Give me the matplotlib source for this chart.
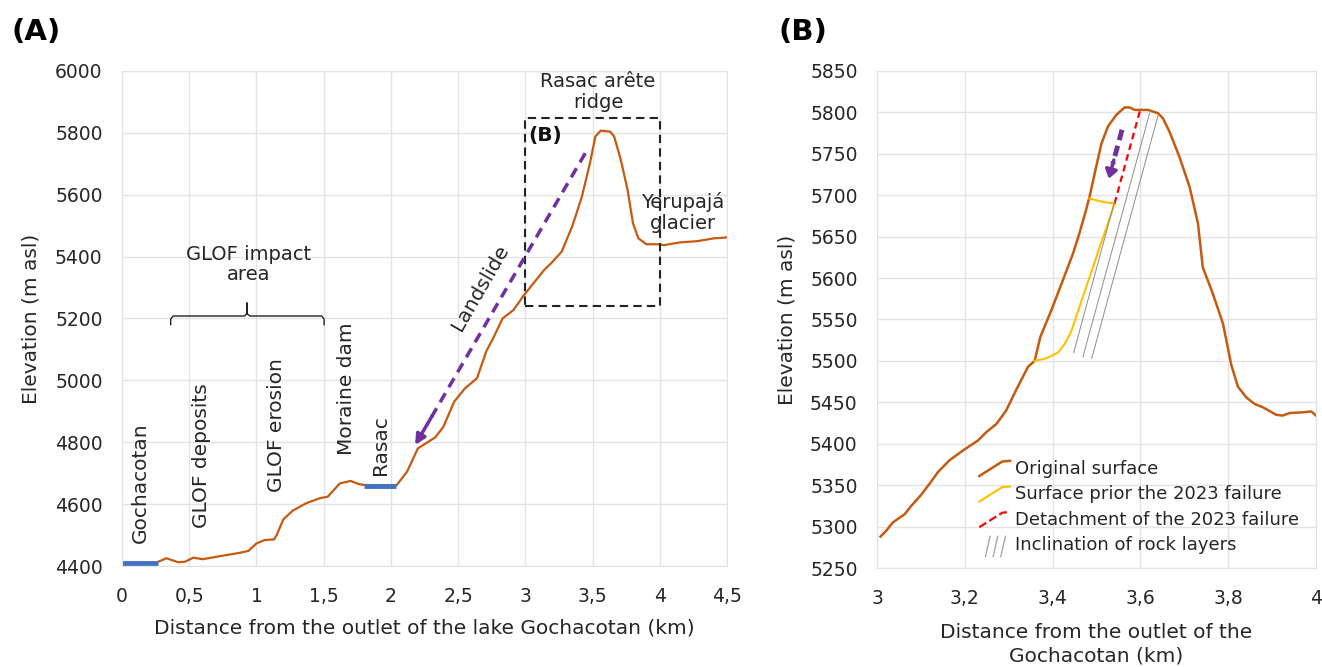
import matplotlib
matplotlib.use("Agg")
import matplotlib.pyplot as plt
from matplotlib.lines import Line2D
from matplotlib.legend_handler import HandlerBase

# ---- data ----
# panel A: long profile
prof_a_x = [0.27, 0.33, 0.42, 0.47, 0.53, 0.60, 0.73, 0.88, 0.94, 1.00, 1.06, 1.13, 1.15, 1.20,
            1.27, 1.37, 1.47, 1.53, 1.62, 1.70, 1.76, 1.80, 2.04, 2.12, 2.20, 2.33, 2.39, 2.47,
            2.55, 2.64, 2.71, 2.76, 2.83, 2.91, 2.99, 3.06, 3.14, 3.19, 3.27, 3.35, 3.42, 3.48,
            3.52, 3.56, 3.63, 3.66, 3.71, 3.76, 3.80, 3.84, 3.90, 3.98, 4.03, 4.15, 4.28, 4.40, 4.50]
prof_a_y = [4414, 4425, 4412, 4414, 4427, 4422, 4432, 4443, 4449, 4473, 4484, 4486, 4500, 4551,
            4579, 4603, 4619, 4624, 4667, 4675, 4665, 4662, 4660, 4705, 4780, 4816, 4850, 4931,
            4974, 5007, 5095, 5136, 5200, 5227, 5276, 5314, 5357, 5378, 5416, 5500, 5594, 5702,
            5788, 5807, 5804, 5788, 5712, 5615, 5508, 5459, 5440, 5440, 5437, 5446, 5450, 5459, 5462]
lake_goch_x = [0.0, 0.27]
lake_goch_y = [4410, 4410]
lake_rasac_x = [1.80, 2.04]
lake_rasac_y = [4660, 4660]
slide_x = [3.445, 2.18]
slide_y = [5734, 4791]
box_x = [3.0, 4.0, 4.0, 3.0, 3.0]
box_y = [5240, 5240, 5848, 5848, 5240]
brace_x = [0.362, 0.362, 0.38, 0.91, 0.93, 0.93, 0.93, 0.95, 1.485, 1.503, 1.503]
brace_y = [5180, 5198, 5208, 5208, 5216, 5250, 5216, 5208, 5208, 5198, 5180]
site_labels = ["Gochacotan", "GLOF deposits", "GLOF erosion", "Moraine dam", "Rasac"]
site_x = [0.134, 0.593, 1.151, 1.672, 1.92]
site_y = [4473, 4522, 4640, 4759, 4694]
xticks_a = [0, 0.5, 1, 1.5, 2, 2.5, 3, 3.5, 4, 4.5]
xtick_labels_a = ["0", "0,5", "1", "1,5", "2", "2,5", "3", "3,5", "4", "4,5"]
yticks_a = [4400, 4600, 4800, 5000, 5200, 5400, 5600, 5800, 6000]

# panel B: close-up of the ridge
prof_b_x = [3.008, 3.021, 3.036, 3.063, 3.078, 3.100, 3.120, 3.139, 3.165, 3.196, 3.230, 3.249,
            3.272, 3.294, 3.317, 3.344, 3.359, 3.372, 3.400, 3.423, 3.446, 3.461, 3.476, 3.484,
            3.499, 3.511, 3.526, 3.545, 3.564, 3.575, 3.587, 3.617, 3.640, 3.651, 3.666, 3.689,
            3.712, 3.731, 3.742, 3.765, 3.788, 3.807, 3.822, 3.841, 3.860, 3.879, 3.909, 3.924,
            3.939, 3.970, 3.989, 4.000]
prof_b_y = [5288, 5295, 5305, 5315, 5325, 5338, 5352, 5366, 5380, 5392, 5404, 5414,
            5424, 5440, 5465, 5493, 5500, 5529, 5565, 5597, 5629, 5654, 5682, 5698,
            5734, 5762, 5783, 5797, 5806, 5806, 5803, 5803, 5799, 5793, 5777, 5746,
            5710, 5666, 5613, 5581, 5545, 5495, 5469, 5456, 5448, 5444, 5435, 5434,
            5437, 5438, 5439, 5434]
prior_x = [3.359, 3.385, 3.412, 3.427, 3.442, 3.461, 3.484, 3.507, 3.526, 3.541, 3.514, 3.484]
prior_y = [5500, 5503, 5510, 5520, 5535, 5565, 5601, 5637, 5666, 5690, 5692, 5696]
detach_x = [3.541, 3.600]
detach_y = [5690, 5804]
layers_x = [[3.448, 3.541], [3.469, 3.621], [3.489, 3.640]]
layers_y = [[5510, 5692], [5505, 5799], [5503, 5796]]
arrow_b_x = [3.558, 3.528]
arrow_b_y = [5779, 5720]
xticks_b = [3, 3.2, 3.4, 3.6, 3.8, 4]
xtick_labels_b = ["3", "3,2", "3,4", "3,6", "3,8", "4"]
yticks_b = list(range(5250, 5851, 50))

ORANGE = "#C55A11"
BLUE = "#4472C4"
PURPLE = "#7030A0"
YELLOW = "#FFC000"
RED = "#FF0000"
TXT = "#262626"
GRID = "#E3E3E3"

plt.rcParams["font.family"] = ["DejaVu Sans"]


def style_axes(ax):
    ax.grid(True, color=GRID, lw=1)
    ax.set_axisbelow(True)
    for s in ax.spines.values():
        s.set_color(GRID)
    ax.tick_params(length=0, labelsize=13.5, labelcolor=TXT)
    ax.tick_params(axis="y", pad=14)
    ax.tick_params(axis="x", pad=15)


fig = plt.figure(figsize=(13.22, 6.67), dpi=100)
ax1 = fig.add_axes([0.0923, 0.1514, 0.4577, 0.7422])
ax2 = fig.add_axes([0.6634, 0.1484, 0.3321, 0.7452])

# ---------------- panel A ----------------
style_axes(ax1)
ax1.plot(prof_a_x, prof_a_y, color=ORANGE, lw=1.6)
ax1.plot(lake_goch_x, lake_goch_y, color=BLUE, lw=3.5, solid_capstyle="butt")
ax1.plot(lake_rasac_x, lake_rasac_y, color=BLUE, lw=3.5, solid_capstyle="butt")
ax1.plot(box_x, box_y, color="#222222", lw=1.5, ls=(0, (4, 2.5)))
ax1.plot(brace_x, brace_y, color="#222222", lw=1)

# landslide arrow: dashed shaft + solid head
ax1.plot([slide_x[0], slide_x[0] + 0.93 * (slide_x[1] - slide_x[0])],
         [slide_y[0], slide_y[0] + 0.93 * (slide_y[1] - slide_y[0])],
         color=PURPLE, lw=2.5, ls=(0, (3, 2)))
ax1.annotate("", xy=(slide_x[1], slide_y[1]),
             xytext=(slide_x[0] + 0.9 * (slide_x[1] - slide_x[0]),
                     slide_y[0] + 0.9 * (slide_y[1] - slide_y[0])),
             arrowprops=dict(arrowstyle="-|>,head_length=0.6,head_width=0.3",
                             color=PURPLE, lw=2.5, shrinkA=0, shrinkB=0))
ax1.text(2.664, 5298, "Landslide", rotation=60, ha="center", va="center",
         fontsize=14.5, color=TXT, rotation_mode="anchor")

for lab, x, y in zip(site_labels, site_x, site_y):
    ax1.text(x, y, lab, rotation=90, ha="center", va="bottom", fontsize=14.5, color=TXT)

ax1.text(0.94, 5375, "GLOF impact\narea", ha="center", va="center", fontsize=14,
         color=TXT, linespacing=1.1)
ax1.text(3.54, 5932, "Rasac arête\nridge", ha="center", va="center", fontsize=14,
         color=TXT, linespacing=1.1)
ax1.text(4.17, 5543, "Yerupajá\nglacier", ha="center", va="center", fontsize=14,
         color=TXT, linespacing=1.1)
ax1.text(3.02, 5793, "(B)", ha="left", va="center", fontsize=14.5, fontweight="bold",
         color="#111111")

ax1.set_xlim(0, 4.5)
ax1.set_ylim(4400, 6000)
ax1.set_xticks(xticks_a)
ax1.set_xticklabels(xtick_labels_a)
ax1.set_yticks(yticks_a)
ax1.set_xlabel("Distance from the outlet of the lake Gochacotan (km)", fontsize=14.5,
               color=TXT, labelpad=9)
ax1.set_ylabel("Elevation (m asl)", fontsize=14.5, color=TXT, labelpad=10)

# ---------------- panel B ----------------
style_axes(ax2)
ax2.plot(prof_b_x, prof_b_y, color=ORANGE, lw=1.8, label="Original surface")
ax2.plot(prior_x, prior_y, color=YELLOW, lw=1.5, label="Surface prior the 2023 failure")
ax2.plot(detach_x, detach_y, color=RED, lw=1.6, ls=(0, (3, 2)),
         label="Detachment of the 2023 failure")
for i, (lx, ly) in enumerate(zip(layers_x, layers_y)):
    ax2.plot(lx, ly, color="#8C8C8C", lw=0.7,
             label="Inclination of rock layers" if i == 0 else None)

ax2.plot([arrow_b_x[0], arrow_b_x[0] + 0.7 * (arrow_b_x[1] - arrow_b_x[0])],
         [arrow_b_y[0], arrow_b_y[0] + 0.7 * (arrow_b_y[1] - arrow_b_y[0])],
         color=PURPLE, lw=3.5, ls=(0, (2.2, 1.2)))
ax2.annotate("", xy=(arrow_b_x[1], arrow_b_y[1]),
             xytext=(arrow_b_x[0] + 0.62 * (arrow_b_x[1] - arrow_b_x[0]),
                     arrow_b_y[0] + 0.62 * (arrow_b_y[1] - arrow_b_y[0])),
             arrowprops=dict(arrowstyle="-|>,head_length=0.5,head_width=0.35",
                             color=PURPLE, lw=2.5, shrinkA=0, shrinkB=0))

ax2.set_xlim(3, 4)
ax2.set_ylim(5250, 5850)
ax2.set_xticks(xticks_b)
ax2.set_xticklabels(xtick_labels_b)
ax2.set_yticks(yticks_b)
ax2.set_xlabel("Distance from the outlet of the\nGochacotan (km)", fontsize=14.5,
               color=TXT, labelpad=11, linespacing=1.3)
ax2.set_ylabel("Elevation (m asl)", fontsize=14.5, color=TXT, labelpad=10)


class SlantHandler(HandlerBase):
    def __init__(self, count=1, **kw):
        super().__init__(**kw)
        self.count = count

    def create_artists(self, legend, orig_handle, xdescent, ydescent, width, height,
                       fontsize, trans):
        arts = []
        if self.count == 1:
            xs = [-xdescent, width * 0.75 - xdescent, width - xdescent]
            ys = [-ydescent - 0.2 * height, height * 0.95 - ydescent, height - ydescent]
            l = Line2D(xs, ys, color=orig_handle.get_color(), lw=orig_handle.get_linewidth(),
                       ls=orig_handle.get_linestyle())
            l.set_transform(trans)
            arts.append(l)
        else:
            for k in range(self.count):
                x0 = -xdescent + width * (0.2 + 0.25 * k)
                l = Line2D([x0, x0 + width * 0.15], [-ydescent - 0.5 * height, height * 1.1 - ydescent],
                           color="#A6A6A6", lw=1.0)
                l.set_transform(trans)
                arts.append(l)
        return arts


handles, labels = ax2.get_legend_handles_labels()
hmap = {h: SlantHandler(1) for h in handles[:3]}
hmap[handles[3]] = SlantHandler(3)
ax2.legend(handles, labels, handler_map=hmap, loc="lower left", bbox_to_anchor=(0.196, -0.005),
           frameon=False, fontsize=13, handlelength=1.7, handletextpad=0.3,
           labelspacing=0.42, labelcolor=TXT)

fig.text(0.009, 0.952, "(A)", fontsize=21, fontweight="bold", va="center", ha="left")
fig.text(0.589, 0.952, "(B)", fontsize=21, fontweight="bold", va="center", ha="left")

fig.savefig("out.png", dpi=100)
